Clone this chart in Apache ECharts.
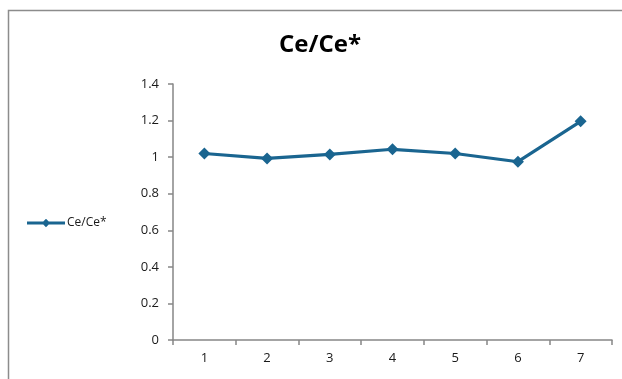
<!DOCTYPE html>
<html>
<head>
<meta charset="utf-8">
<script src="https://cdn.jsdelivr.net/npm/echarts@6/dist/echarts.min.js"></script>
<style>
  html, body { margin: 0; padding: 0; background: #fff; }
  #chart { width: 622px; height: 379px; }
</style>
</head>
<body>
<div id="chart"></div>
<script>
// Sample numbers along the x axis
const categories = ['1', '2', '3', '4', '5', '6', '7'];
// Cerium anomaly per sample
const ceAnomaly = [1.02, 0.993, 1.015, 1.043, 1.02, 0.975, 1.196];
const seriesName = 'Ce/Ce*';

const lineColor = '#1a6590';
const axisColor = '#868686';
const labelColor = '#1a1a1a';
const textFont = '"Open Sans", "Liberation Sans", sans-serif';

// Legend key: a short line with a diamond in the middle
const legendIcon = 'path://M0,3.6 L36,3.6 L36,6.4 L0,6.4 Z M18,1 L22,5 L18,9 L14,5 Z';

const chart = echarts.init(document.getElementById('chart'), null, { renderer: 'canvas' });
chart.setOption({
  animation: false,
  backgroundColor: '#ffffff',
  graphic: [{
    type: 'rect',
    shape: { x: 8.5, y: 10.5, width: 800, height: 600 },
    style: { fill: 'none', stroke: '#8c8c8c', lineWidth: 1.5 },
    silent: true
  }],
  title: {
    text: 'Ce/Ce*',
    left: 315,
    top: 28,
    textAlign: 'center',
    textStyle: { fontFamily: textFont, fontWeight: 'bold', fontSize: 24, color: '#000' }
  },
  legend: {
    left: 22,
    top: 212,
    itemWidth: 38,
    itemHeight: 10,
    itemGap: 4,
    textStyle: { fontFamily: textFont, fontSize: 12, color: labelColor, padding: [0, 0, 0, -3] },
    data: [{ name: seriesName, icon: legendIcon }]
  },
  grid: { left: 173, top: 84, right: 10, bottom: 39, containLabel: false },
  xAxis: {
    type: 'category',
    data: categories,
    boundaryGap: true,
    axisLine: { lineStyle: { color: axisColor, width: 1.5 } },
    axisTick: { show: true, length: 5, interval: 0, lineStyle: { color: axisColor, width: 1.5 } },
    axisLabel: { margin: 12, fontFamily: textFont, fontSize: 13, color: labelColor },
    splitLine: { show: false }
  },
  yAxis: {
    type: 'value',
    min: 0,
    max: 1.4,
    interval: 0.2,
    axisLine: { show: true, lineStyle: { color: axisColor, width: 1.5 } },
    axisTick: { show: true, length: 5, lineStyle: { color: axisColor, width: 1.5 } },
    axisLabel: { margin: 14, fontFamily: textFont, fontSize: 13, color: labelColor },
    splitLine: { show: false }
  },
  series: [{
    name: seriesName,
    type: 'line',
    data: ceAnomaly,
    symbol: 'diamond',
    symbolSize: 12,
    lineStyle: { color: lineColor, width: 3.2 },
    itemStyle: { color: lineColor },
    emphasis: { disabled: true }
  }]
});
</script>
</body>
</html>
